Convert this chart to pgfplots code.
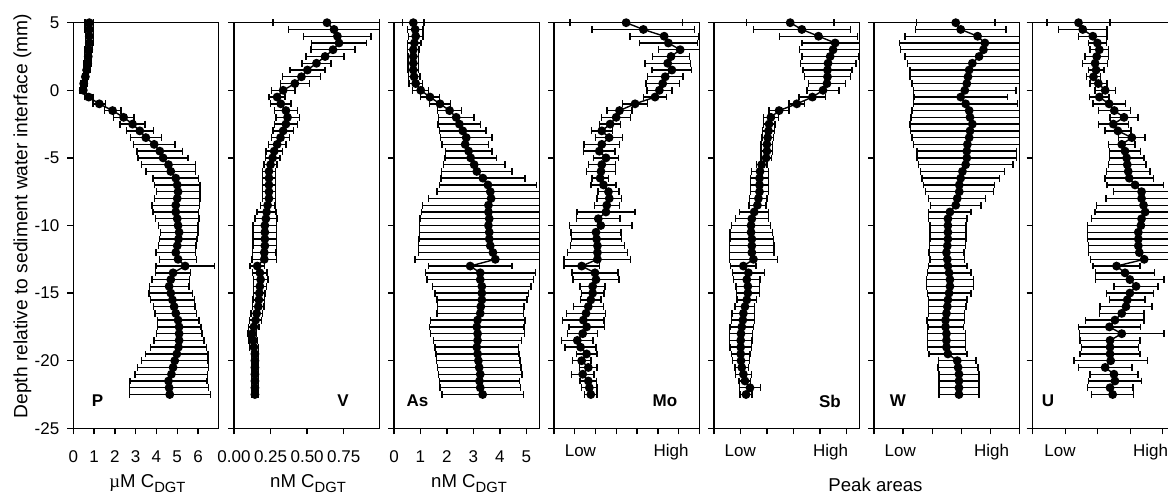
\documentclass[border=0pt]{standalone}
\usepackage{pgfplots}
\pgfplotsset{compat=1.18}
\usepackage{pgfplotstable}
\usepackage{fontspec}
\setmainfont{Liberation Sans}
\newfontfamily\serifmu{Liberation Serif}
\newcommand\sub[1]{\raisebox{-2.5pt}{\fontsize{7.4}{8}\selectfont #1}}

\pgfplotstableread{
d v e
5 0.77 0.2
4.5 0.77 0.2
4 0.77 0.19
3.5 0.77 0.18
3 0.74 0.18
2.5 0.72 0.17
2 0.69 0.17
1.5 0.64 0.16
1 0.58 0.15
0.5 0.5 0.15
0 0.48 0.15
-0.5 0.74 0.2
-1 1.25 0.3
-1.5 1.89 0.4
-2 2.42 0.5
-2.5 2.85 0.6
-3 3.2 0.65
-3.5 3.49 0.75
-4 3.89 1.0
-4.5 4.16 1.1
-5 4.32 1.2
-5.5 4.58 1.3
-6 4.69 1.2
-6.5 4.93 1.1
-7 5.0 1.1
-7.5 5.04 1.05
-8 5.0 1.1
-8.5 4.93 1.15
-9 4.93 1.1
-9.5 5.0 1.05
-10 5.04 0.95
-10.5 5.09 0.9
-11 5.06 0.9
-11.5 5.0 0.9
-12 4.93 0.95
-12.5 5.04 0.9
-13 5.38 1.4
-13.5 4.8 0.85
-14 4.69 0.9
-14.5 4.61 0.95
-15 4.69 1.05
-15.5 4.77 1.05
-16 4.85 1.0
-16.5 4.93 1.0
-17 5.04 1.0
-17.5 5.09 1.05
-18 5.09 1.1
-18.5 5.09 1.2
-19 5.06 1.35
-19.5 4.98 1.5
-20 4.88 1.6
-20.5 4.8 1.7
-21 4.72 1.75
-21.5 4.58 1.85
-22 4.61 1.9
-22.5 4.64 1.95
}\tP

\pgfplotstableread{
d v e
5 0.636 0.37
4.5 0.684 0.31
4 0.707 0.23
3.5 0.718 0.19
3 0.677 0.15
2.5 0.623 0.13
2 0.564 0.1
1.5 0.502 0.12
1 0.461 0.13
0.5 0.416 0.1
0 0.336 0.08
-0.5 0.295 0.055
-1 0.32 0.07
-1.5 0.355 0.08
-2 0.366 0.08
-2.5 0.355 0.08
-3 0.336 0.07
-3.5 0.318 0.06
-4 0.295 0.06
-4.5 0.275 0.055
-5 0.264 0.05
-5.5 0.25 0.045
-6 0.239 0.045
-6.5 0.239 0.045
-7 0.239 0.045
-7.5 0.239 0.045
-8 0.239 0.045
-8.5 0.23 0.05
-9 0.223 0.065
-9.5 0.218 0.075
-10 0.211 0.08
-10.5 0.211 0.08
-11 0.211 0.08
-11.5 0.211 0.08
-12 0.207 0.08
-12.5 0.207 0.085
-13 0.159 0.05
-13.5 0.177 0.05
-14 0.182 0.05
-14.5 0.177 0.045
-15 0.173 0.04
-15.5 0.17 0.04
-16 0.166 0.04
-16.5 0.155 0.04
-17 0.148 0.04
-17.5 0.136 0.035
-18 0.125 0.03
-18.5 0.132 0.03
-19 0.136 0.03
-19.5 0.143 0.025
-20 0.143 0.025
-20.5 0.143 0.025
-21 0.143 0.025
-21.5 0.143 0.025
-22 0.143 0.025
-22.5 0.143 0.025
}\tV

\pgfplotstableread{
d v e
5 0.73 0.4
4.5 0.8 0.3
4 0.82 0.28
3.5 0.77 0.25
3 0.73 0.22
2.5 0.73 0.2
2 0.73 0.2
1.5 0.73 0.2
1 0.76 0.22
0.5 0.82 0.25
0 1.01 0.3
-0.5 1.36 0.35
-1 1.74 0.4
-1.5 2.1 0.45
-2 2.35 0.67
-2.5 2.47 0.8
-3 2.6 0.88
-3.5 2.73 0.98
-4 2.69 0.88
-4.5 2.82 0.88
-5 2.9 0.97
-5.5 3.03 1.16
-6 3.13 1.33
-6.5 3.36 1.59
-7 3.55 1.83
-7.5 3.64 2.02
-8 3.67 2.37
-8.5 3.57 2.49
-9 3.57 2.53
-9.5 3.6 2.61
-10 3.57 2.61
-10.5 3.6 2.64
-11 3.6 2.65
-11.5 3.64 2.71
-12 3.74 2.82
-12.5 3.83 3.03
-13 2.88 1.58
-13.5 3.26 2.08
-14 3.26 2.02
-14.5 3.32 1.86
-15 3.32 1.77
-15.5 3.32 1.7
-16 3.28 1.64
-16.5 3.26 1.64
-17 3.16 1.79
-17.5 3.13 1.79
-18 3.16 1.77
-18.5 3.16 1.67
-19 3.13 1.58
-19.5 3.16 1.57
-20 3.19 1.58
-20.5 3.22 1.58
-21 3.26 1.58
-21.5 3.23 1.52
-22 3.26 1.52
-22.5 3.35 1.54
}\tAs

\pgfplotstableread{
d v e
5 3.47 2.7
4.5 4.3 2.47
4 5.3 1.65
3.5 5.5 1.4
3 6.07 1.05
2.5 5.63 0.9
2 5.47 1.1
1.5 5.67 0.95
1 5.35 0.85
0.5 5.23 0.8
0 5.07 0.6
-0.5 4.86 0.55
-1 3.9 0.6
-1.5 3.15 0.6
-2 2.99 0.7
-2.5 2.7 0.5
-3 2.3 0.5
-3.5 2.65 0.65
-4 2.3 0.85
-4.5 2.18 0.75
-5 2.5 0.6
-5.5 2.3 0.65
-6 2.26 0.7
-6.5 2.22 0.4
-7 2.38 0.6
-7.5 2.62 0.5
-8 2.66 0.6
-8.5 2.54 0.6
-9 2.5 1.4
-9.5 2.13 1.05
-10 2.25 1.5
-10.5 2.02 1.2
-11 2.05 1.2
-11.5 2.09 1.3
-12 2.09 1.45
-12.5 2.09 1.6
-13 1.33 0.85
-13.5 1.97 1.1
-14 2.02 1.1
-14.5 1.86 0.6
-15 1.86 0.55
-15.5 1.77 0.5
-16 1.65 0.72
-16.5 1.54 0.95
-17 1.41 1.0
-17.5 1.57 0.85
-18 1.38 0.72
-18.5 1.12 0.75
-19 1.28 0.75
-19.5 1.57 0.5
-20 1.33 0.45
-20.5 1.65 0.42
-21 1.38 0.55
-21.5 1.65 0.4
-22 1.7 0.37
-22.5 1.77 0.3
}\tMo

\pgfplotstableread{
d v e
5 2.88 1.65
4.5 3.32 1.83
4 3.95 1.48
3.5 4.58 1.26
3 4.5 1.27
2.5 4.39 1.07
2 4.31 1.05
1.5 4.29 0.92
1 4.29 0.88
0.5 4.27 0.7
0 4.12 0.6
-0.5 3.72 0.5
-1 3.13 0.3
-1.5 2.46 0.38
-2 2.15 0.28
-2.5 2.08 0.22
-3 2.06 0.22
-3.5 2.03 0.22
-4 2.0 0.22
-4.5 2.0 0.22
-5 1.97 0.2
-5.5 1.8 0.2
-6 1.74 0.33
-6.5 1.72 0.33
-7 1.72 0.33
-7.5 1.72 0.33
-8 1.68 0.33
-8.5 1.64 0.32
-9 1.52 0.55
-9.5 1.43 0.62
-10 1.4 0.73
-10.5 1.4 0.8
-11 1.43 0.82
-11.5 1.43 0.84
-12 1.43 0.84
-12.5 1.49 0.9
-13 1.11 0.48
-13.5 1.3 0.6
-14 1.24 0.5
-14.5 1.28 0.45
-15 1.28 0.43
-15.5 1.24 0.37
-16 1.17 0.37
-16.5 1.11 0.43
-17 1.09 0.44
-17.5 1.05 0.44
-18 1.02 0.44
-18.5 1.01 0.43
-19 1.01 0.4
-19.5 1.01 0.35
-20 1.02 0.33
-20.5 1.05 0.25
-21 1.11 0.3
-21.5 1.17 0.22
-22 1.36 0.39
-22.5 1.21 0.22
}\tSb

\pgfplotstableread{
d v e
5 2.81 1.35
4.5 2.98 1.56
4 3.56 2.5
3.5 3.81 2.93
3 3.76 2.84
2.5 3.61 2.54
2 3.38 2.23
1.5 3.27 2.04
1 3.23 1.99
0.5 3.19 1.88
0 3.12 1.76
-0.5 2.98 1.6
-1 3.15 1.79
-1.5 3.27 1.96
-2 3.3 2.03
-2.5 3.38 2.14
-3 3.3 2.05
-3.5 3.27 1.96
-4 3.21 1.85
-4.5 3.19 1.71
-5 3.19 1.71
-5.5 3.15 1.62
-6 3.04 1.44
-6.5 2.98 1.33
-7 2.93 1.22
-7.5 2.93 1.17
-8 2.86 0.98
-8.5 2.81 0.87
-9 2.61 0.73
-9.5 2.54 0.66
-10 2.54 0.62
-10.5 2.54 0.62
-11 2.54 0.62
-11.5 2.52 0.62
-12 2.49 0.6
-12.5 2.52 0.6
-13 2.54 0.66
-13.5 2.58 0.75
-14 2.61 0.81
-14.5 2.61 0.81
-15 2.58 0.75
-15.5 2.54 0.66
-16 2.52 0.64
-16.5 2.49 0.61
-17 2.46 0.64
-17.5 2.46 0.61
-18 2.49 0.65
-18.5 2.49 0.65
-19 2.49 0.65
-19.5 2.54 0.65
-20 2.86 0.64
-20.5 2.89 0.69
-21 2.92 0.69
-21.5 2.92 0.69
-22 2.92 0.69
-22.5 2.92 0.69
}\tW

\pgfplotstableread{
d v e
5 1.41 0.97
4.5 1.54 0.75
4 1.85 0.44
3.5 1.99 0.28
3 2.05 0.29
2.5 1.97 0.36
2 1.92 0.38
1.5 1.95 0.24
1 1.87 0.22
0.5 2.02 0.26
0 2.23 0.31
-0.5 2.05 0.3
-1 2.35 0.5
-1.5 2.51 0.49
-2 2.81 0.43
-2.5 2.48 0.46
-3 2.62 0.4
-3.5 3.05 0.41
-4 2.74 0.41
-4.5 2.84 0.48
-5 2.89 0.53
-5.5 2.91 0.58
-6 2.94 0.67
-6.5 2.97 0.75
-7 3.15 0.87
-7.5 3.35 0.87
-8 3.35 1.1
-8.5 3.41 1.44
-9 3.46 1.54
-9.5 3.35 1.54
-10 3.33 1.65
-10.5 3.25 1.57
-11 3.25 1.57
-11.5 3.25 1.54
-12 3.28 1.57
-12.5 3.43 1.66
-13 2.58 0.72
-13.5 2.84 0.9
-14 2.99 1.05
-14.5 3.18 0.68
-15 2.99 0.72
-15.5 2.91 0.55
-16 2.87 0.8
-16.5 2.74 0.69
-17 2.53 0.9
-17.5 2.36 0.95
-18 2.74 1.3
-18.5 2.38 0.92
-19 2.38 0.87
-19.5 2.38 0.92
-20 2.4 1.13
-20.5 2.23 0.82
-21 2.5 0.74
-21.5 2.53 0.82
-22 2.38 0.7
-22.5 2.46 0.65
}\tU

\pgfplotsset{
  panel/.style={
    scale only axis, width=72.75pt, height=202.8pt,
    anchor=north west,
    ymin=-25, ymax=5, ytick={-25,-20,-15,-10,-5,0,5},
    yticklabels={},
    tick align=outside, xtick pos=bottom, ytick pos=left,
    major tick length=3pt,
    axis line style={line width=0.7pt},
    every tick/.style={black, line width=0.7pt},
    clip=false,
    tick label style={font=\fontsize{8.5}{9}\selectfont},
    xticklabel style={yshift=-4.5pt},
    yticklabel style={xshift=-0.5pt},
    /pgf/number format/assume math mode=true,
    extra x tick style={major tick length=0pt},
  },
  prof/.style={black, line width=0.7pt, mark=*, mark size=1.85pt,
    mark options={solid, fill=black},
    error bars/.cd, x dir=both, x explicit,
    error bar style={line width=0.7pt, black},
    error mark options={rotate=90, mark size=1.7pt, line width=0.7pt, black}},
}
\tikzset{lett/.style={font=\bfseries\fontsize{8.5}{10}\selectfont}}

\begin{document}
\begin{tikzpicture}
\useasboundingbox (0pt,0pt) rectangle (584pt,-247pt);
\clip (0pt,0pt) rectangle (584pt,-247pt);

% P
\begin{axis}[panel, at={(36.65pt,-11.35pt)}, xmin=0, xmax=7,
  xtick={0,1,2,3,4,5,6}, xticklabels={0,1,2,3,4,5,6},
  yticklabels={-25,-20,-15,-10,-5,0,5}]
\addplot[prof] table[x=v, y=d, x error=e] {\tP};
\node[lett] at (rel axis cs:0.166,0.067) {P};
\end{axis}

% V
\begin{axis}[panel, at={(117pt,-11.35pt)}, xmin=0, xmax=0.995,
  xtick={0,0.25,0.5,0.75}, xticklabels={0.00,0.25,0.50,0.75}]
\addplot[prof] table[x=v, y=d, x error minus=e, x error plus expr={min(\thisrow{e},0.995-\thisrow{v})}] {\tV};
\node[lett] at (rel axis cs:0.749,0.067) {V};
\end{axis}

% As
\begin{axis}[panel, at={(197pt,-11.35pt)}, xmin=0, xmax=5.5,
  xtick={0,1,2,3,4,5}, xticklabels={0,1,2,3,4,5}]
\addplot[prof] table[x=v, y=d, x error minus=e, x error plus expr={min(\thisrow{e},5.5-\thisrow{v})}] {\tAs};
\node[lett] at (rel axis cs:0.162,0.067) {As};
\end{axis}

% Mo
\begin{axis}[panel, at={(277pt,-11.35pt)}, xmin=0, xmax=7,
  xtick={0,1,2,3,4,5,6,7}, xticklabels={},
  extra x ticks={1.27,5.63}, extra x tick labels={Low,High}]
\addplot[prof] table[x=v, y=d, x error minus=e, x error plus expr={min(\thisrow{e},7-\thisrow{v})}] {\tMo};
\node[lett] at (rel axis cs:0.763,0.067) {Mo};
\end{axis}

% Sb
\begin{axis}[panel, at={(357pt,-11.35pt)}, xmin=0, xmax=5.5,
  xtick={0,1,2,3,4,5}, xticklabels={},
  extra x ticks={0.99,4.41}, extra x tick labels={Low,High}]
\addplot[prof] table[x=v, y=d, x error minus=e, x error plus expr={min(\thisrow{e},5.5-\thisrow{v})}] {\tSb};
\node[lett] at (rel axis cs:0.797,0.067) {Sb};
\end{axis}

% W
\begin{axis}[panel, at={(437pt,-11.35pt)}, xmin=0, xmax=5,
  xtick={0,1,2,3,4,5}, xticklabels={},
  extra x ticks={0.9,4.04}, extra x tick labels={Low,High}]
\addplot[prof] table[x=v, y=d, x error minus=e, x error plus expr={min(\thisrow{e},5-\thisrow{v})}] {\tW};
\node[lett] at (rel axis cs:0.165,0.067) {W};
\end{axis}

% U
\begin{axis}[panel, at={(516.35pt,-11.35pt)}, xmin=0, xmax=4.477,
  xtick={0,1,2,3,4}, xticklabels={},
  extra x ticks={0.84,3.63}, extra x tick labels={Low,High}]
\addplot[prof] table[x=v, y=d, x error minus=e, x error plus expr={min(\thisrow{e},4.477-\thisrow{v})}] {\tU};
\node[lett] at (rel axis cs:0.105,0.067) {U};
\end{axis}

\node[rotate=90, font=\fontsize{9.6}{11}\selectfont] at (11.25pt,-108pt) {Depth relative to sediment water interface (mm)};
\node[anchor=base, inner sep=0pt, font=\fontsize{9.3}{11}\selectfont] at (73.75pt,-243.6pt) {{\serifmu µ}M C\sub{DGT}};
\node[anchor=base, inner sep=0pt, font=\fontsize{9.3}{11}\selectfont] at (154pt,-243.6pt) {nM C\sub{DGT}};
\node[anchor=base, inner sep=0pt, font=\fontsize{9.3}{11}\selectfont] at (234.5pt,-243.6pt) {nM C\sub{DGT}};
\node[anchor=base, inner sep=0pt, font=\fontsize{9.3}{11}\selectfont] at (437.75pt,-245.6pt) {Peak areas};
\end{tikzpicture}
\end{document}
